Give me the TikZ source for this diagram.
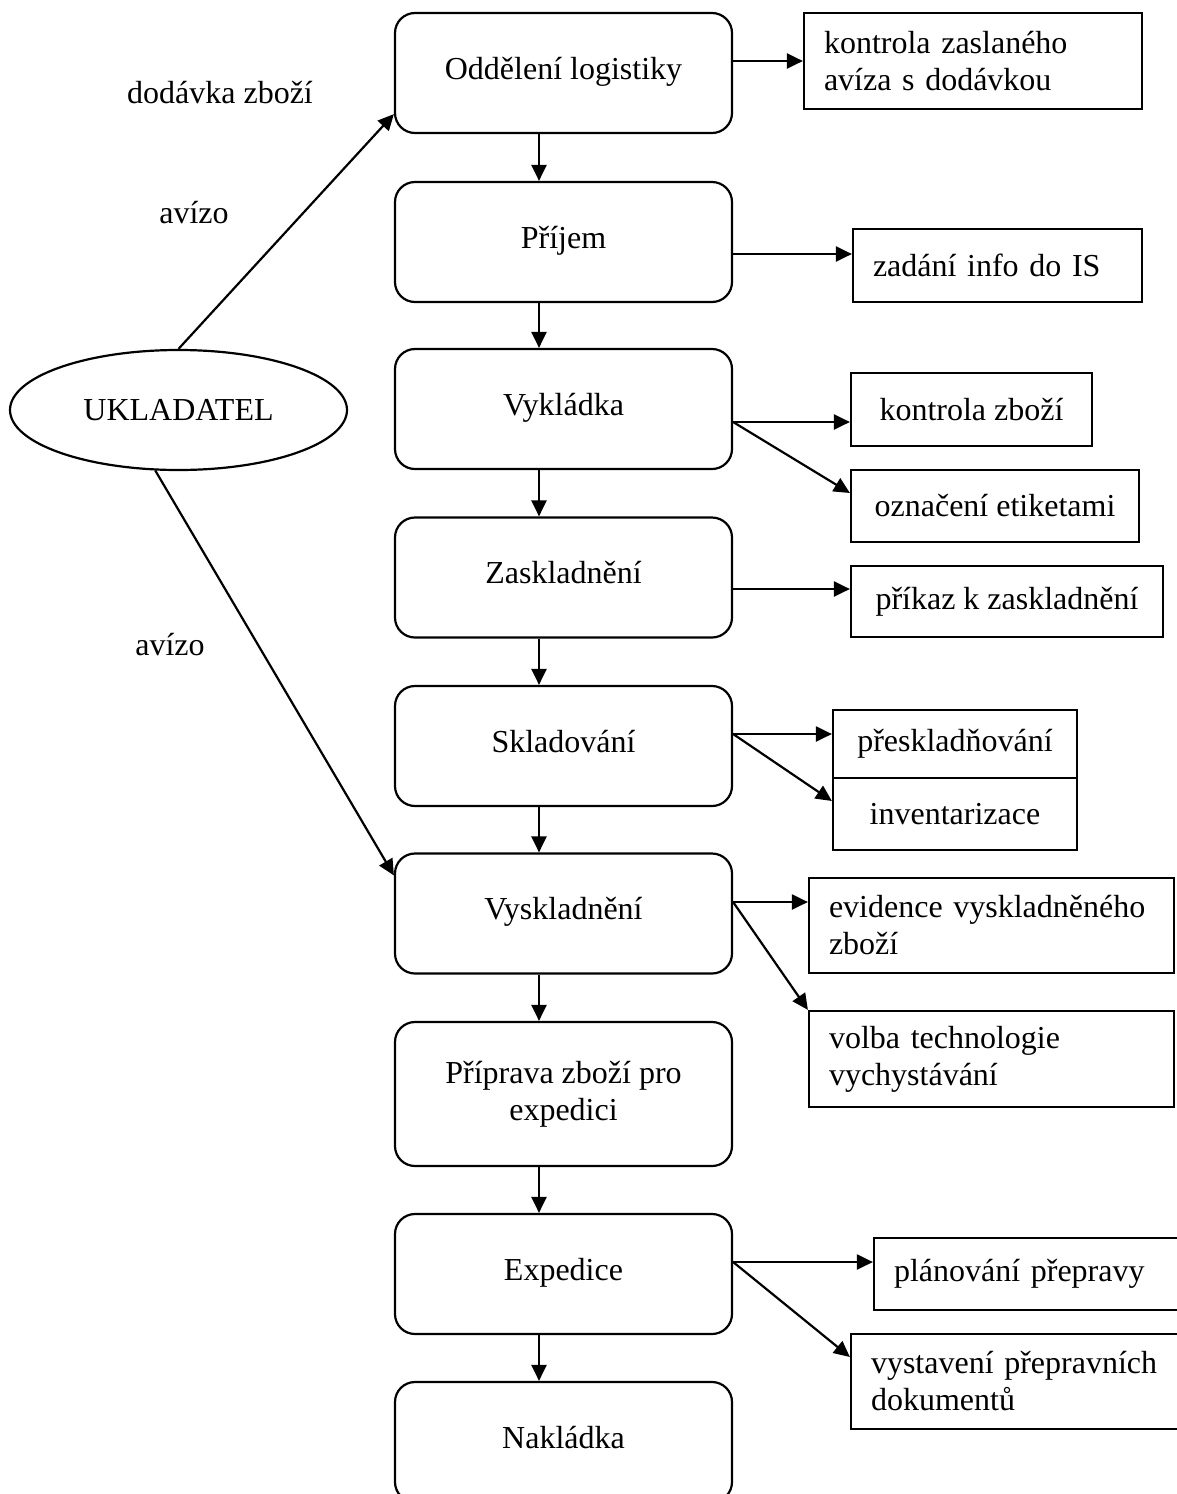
\documentclass[tikz,border=0pt]{standalone}
\usepackage{fontspec}
\setmainfont{Liberation Serif}
\usepackage{tikz}
\usetikzlibrary{arrows.meta,positioning,shapes.geometric}
\tikzset{
  krok/.style={draw, line width=1.1pt, rounded corners=10pt, minimum width=168.5pt,
               minimum height=60pt, align=center, inner sep=2pt, text depth=5pt},
  cinnost/.style={draw, line width=1.1pt, align=center, inner sep=2pt},
  cinnostl/.style={draw, line width=1.1pt, align=left, inner xsep=10pt, inner ysep=2pt},
  zdroj/.style={draw, ellipse, line width=1.1pt, minimum width=168.5pt, minimum height=60pt},
  pop/.style={inner sep=0pt},
  sip/.style={-{Triangle[length=8pt,width=7.5pt]}, line width=1.1pt},
}

\begin{document}
\begin{tikzpicture}[x=0.5pt, y=-0.5pt, font=\fontsize{16}{18.5}\selectfont]
  \useasboundingbox (0,0) rectangle (1177,1494);
  \clip (0,0) rectangle (1177,1494);

  % hlavní tok
  \node[krok] (odd)  at (563.5,73)    {Oddělení logistiky};
  \node[krok] (prij) at (563.5,242)   {Příjem};
  \node[krok] (vykl) at (563.5,409)   {Vykládka};
  \node[krok] (zask) at (563.5,577.5) {Zaskladnění};
  \node[krok] (skl)  at (563.5,746)   {Skladování};
  \node[krok] (vysk) at (563.5,913.5) {Vyskladnění};
  \node[krok, minimum height=72pt, text depth=] (prip) at (563.5,1094) {Příprava zboží pro\\expedici};
  \node[krok] (exp)  at (563.5,1274)  {Expedice};
  \node[krok] (nakl) at (563.5,1442)  {Nakládka};

  \foreach \a/\b in {odd/prij, prij/vykl, vykl/zask, zask/skl, skl/vysk,
                     vysk/prip, prip/exp, exp/nakl}
    \draw[sip] ([xshift=-12.25pt]\a.south) -- ([xshift=-12.25pt]\b.north);

  % ukladatel
  \node[zdroj] (ukl) at (178.5,410) {UKLADATEL};
  \node[pop] (dod) at (220,93)  {dodávka zboží};
  \node[pop] (av1) at (194,213) {avízo};
  \node[pop] (av2) at (170,645) {avízo};
  \draw[sip] (ukl.north) -- ([yshift=10pt]odd.south west);
  \draw[sip] (ukl.-111) -- ([yshift=-11.5pt]vysk.north west);

  % činnosti
  \node[cinnostl, text width=149pt, minimum height=48pt] (kz) at (973,61)
       {kontrola zaslaného\\avíza s dodávkou};
  \node[cinnostl, text width=124.5pt, minimum height=36.5pt] (zi) at (997.5,265.5)
       {zadání info do IS};
  \node[cinnost, minimum width=120.5pt, minimum height=36.5pt] (kzb) at (971.5,409.5)
       {kontrola zboží};
  \node[cinnost, minimum width=144pt, minimum height=36pt] (oe) at (995,506)
       {označení etiketami};
  \node[cinnost, minimum width=156pt, minimum height=35.5pt] (pz) at (1007,601.5)
       {příkaz k zaskladnění};
  \node[cinnost, minimum width=122pt, minimum height=34pt] (presk) at (955,744)
       {přeskladňování};
  \node[cinnost, minimum width=122pt, minimum height=36pt] (inv) at (955,814)
       {inventarizace};
  \node[cinnostl, text width=162.5pt, minimum height=47.5pt] (ev) at (991.5,925.5)
       {evidence vyskladněného\\zboží};
  \node[cinnostl, text width=162.5pt, minimum height=48pt] (vt) at (991.5,1059)
       {volba technologie\\vychystávání};
  \node[cinnostl, text width=134pt, minimum height=36pt] (pp) at (1028,1274)
       {plánování přepravy};
  \node[cinnostl, text width=145.5pt, minimum height=47.5pt] (vp) at (1016.5,1381.5)
       {vystavení přepravních\\dokumentů};

  \draw[sip] (odd.east |- kz.west) -- (kz.west);
  \draw[sip] ([yshift=-6pt]prij.east) -- ([yshift=-6pt]prij.east -| zi.west);
  \draw[sip] ([yshift=-6.5pt]vykl.east) -- ([yshift=-6.5pt]vykl.east -| kzb.west);
  \draw[sip] ([yshift=-6.5pt]vykl.east) -- ([yshift=6.5pt]oe.west);
  \draw[sip] ([yshift=-5.75pt]zask.east) -- ([yshift=-5.75pt]zask.east -| pz.west);
  \draw[sip] ([yshift=6pt]skl.east) -- ([yshift=6pt]skl.east -| presk.west);
  \draw[sip] ([yshift=6pt]skl.east) -- ([yshift=6.5pt]inv.west);
  \draw[sip] ([yshift=5.75pt]vysk.east) -- ([yshift=5.75pt]vysk.east -| ev.west);
  \draw[sip] ([yshift=5.75pt]vysk.east) -- (vt.north west);
  \draw[sip] ([yshift=6pt]exp.east) -- ([yshift=6pt]exp.east -| pp.west);
  \draw[sip] ([yshift=6pt]exp.east) -- ([yshift=12.25pt]vp.west);
\end{tikzpicture}
\end{document}
